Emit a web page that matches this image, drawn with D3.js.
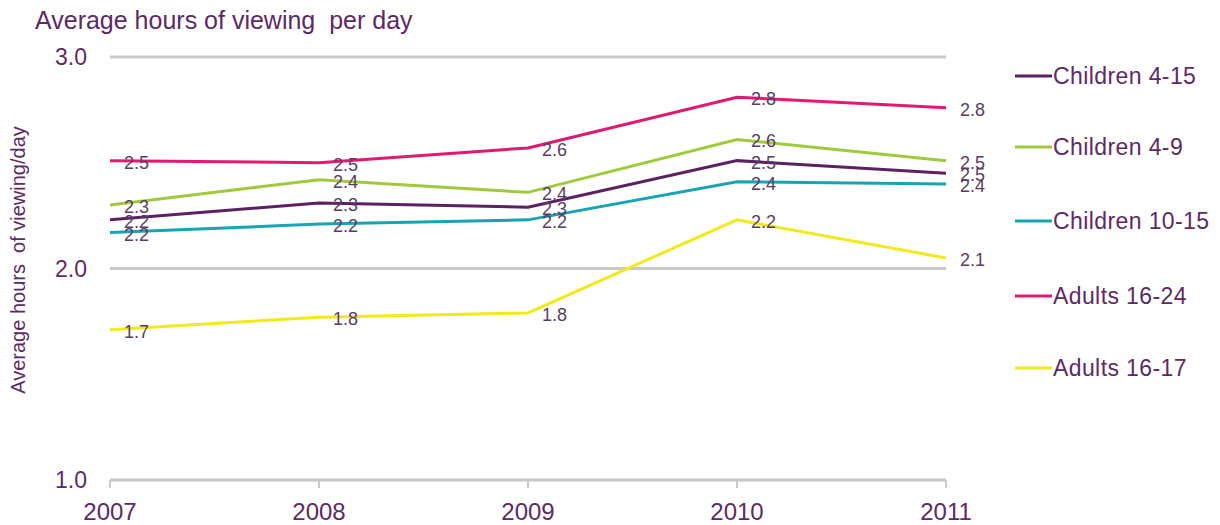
<!DOCTYPE html>
<html>
<head>
<meta charset="utf-8">
<script src="https://cdn.jsdelivr.net/npm/d3@7"></script>
<style>
  body { margin: 0; background: #fff; }
  text { font-family: Arial, "Liberation Sans", sans-serif; white-space: pre; }
</style>
</head>
<body>
<script>
const width = 1220;
const height = 525;

const years = ['2007', '2008', '2009', '2010', '2011'];
const seriesNames = ['Children 4-15', 'Children 4-9', 'Children 10-15', 'Adults 16-24', 'Adults 16-17'];
const seriesColors = ['#5b2163', '#9fcb3a', '#17a5b5', '#e3196f', '#f2ea1c'];
const children415 = [2.23, 2.31, 2.29, 2.51, 2.45];
const children49 = [2.30, 2.42, 2.36, 2.61, 2.51];
const children1015 = [2.17, 2.21, 2.23, 2.41, 2.40];
const adults1624 = [2.51, 2.50, 2.57, 2.81, 2.76];
const adults1617 = [1.71, 1.77, 1.79, 2.23, 2.05];
const yTicks = [1.0, 2.0, 3.0];

const series = [children415, children49, children1015, adults1624, adults1617]
  .map((values, i) => ({ name: seriesNames[i], color: seriesColors[i], values }));

const textColor = '#5e2a66';

const svg = d3.select('body').append('svg')
  .attr('width', width)
  .attr('height', height);

const x = d3.scalePoint().domain(years).range([110, 946]);
const y = d3.scaleLinear().domain([1, 3]).range([480, 57]);

// gridlines
svg.selectAll('.grid')
  .data(yTicks)
  .join('line')
  .attr('x1', 110)
  .attr('x2', 946)
  .attr('y1', d => y(d))
  .attr('y2', d => y(d))
  .attr('stroke', '#c9c9c9')
  .attr('stroke-width', 3);

// x ticks
svg.selectAll('.xtick')
  .data(years)
  .join('line')
  .attr('x1', d => x(d))
  .attr('x2', d => x(d))
  .attr('y1', y(1))
  .attr('y2', y(1) + 8)
  .attr('stroke', '#c9c9c9')
  .attr('stroke-width', 2);

svg.selectAll('.xlabel')
  .data(years)
  .join('text')
  .attr('x', d => x(d))
  .attr('y', 520)
  .attr('text-anchor', 'middle')
  .attr('font-size', 24)
  .attr('fill', textColor)
  .text(d => d);

svg.selectAll('.ylabel')
  .data(yTicks)
  .join('text')
  .attr('x', 87)
  .attr('y', d => y(d) + 8)
  .attr('text-anchor', 'end')
  .attr('font-size', 23)
  .attr('fill', textColor)
  .text(d => d3.format('.1f')(d));

svg.append('text')
  .attr('x', 35)
  .attr('y', 29)
  .attr('font-size', 25)
  .attr('fill', textColor)
  .text('Average hours of viewing  per day');

svg.append('text')
  .attr('transform', 'translate(25,260) rotate(-90)')
  .attr('text-anchor', 'middle')
  .attr('font-size', 20)
  .attr('fill', textColor)
  .text('Average hours  of viewing/day');

const line = d3.line()
  .x((d, i) => x(years[i]))
  .y(d => y(d));

svg.selectAll('.series')
  .data(series)
  .join('path')
  .attr('d', d => line(d.values))
  .attr('fill', 'none')
  .attr('stroke', d => d.color)
  .attr('stroke-width', 3);

const fmt = v => (Math.round(v * 10 + 1e-6) / 10).toFixed(1);

series.forEach(s => {
  svg.selectAll(null)
    .data(s.values)
    .join('text')
    .attr('x', (d, i) => x(years[i]) + 14)
    .attr('y', d => y(d) + 8)
    .attr('font-size', 18)
    .attr('fill', '#5a3d66')
    .text(d => fmt(d));
});

// legend
const legendY = [76, 147, 221, 296, 368];
const legend = svg.selectAll('.legend')
  .data(series)
  .join('g')
  .attr('transform', (d, i) => `translate(1015,${legendY[i]})`);

legend.append('line')
  .attr('x1', 0)
  .attr('x2', 37)
  .attr('stroke', d => d.color)
  .attr('stroke-width', 3);

legend.append('text')
  .attr('x', 38)
  .attr('y', 8)
  .attr('font-size', 23)
  .attr('letter-spacing', 0.4)
  .attr('fill', textColor)
  .text(d => d.name);
</script>
</body>
</html>
